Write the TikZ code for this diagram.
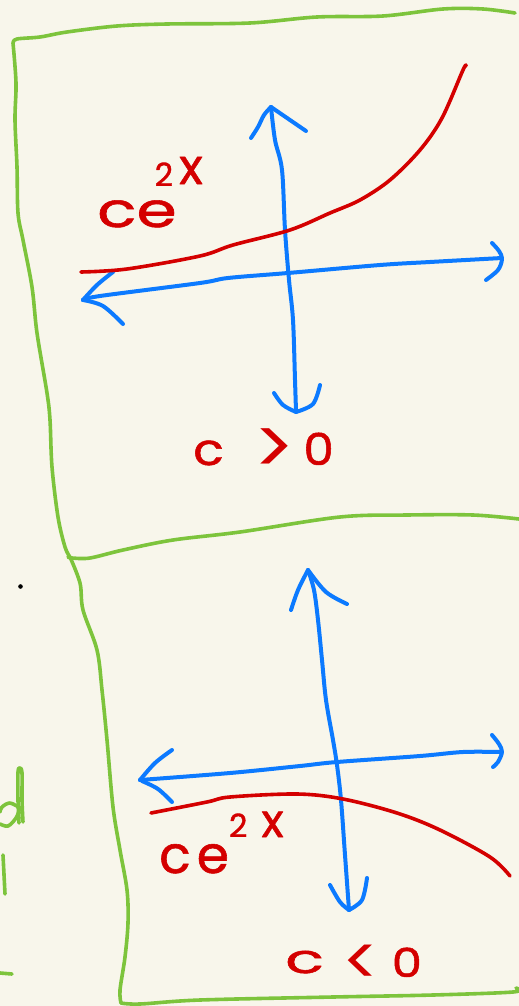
\documentclass[tikz,border=0pt]{standalone}
\usepackage{fontspec}
\newfontfamily\hand[FakeBold=1.1]{Poppins}
\newfontfamily\handsym{Poppins}
\definecolor{paper}{RGB}{248,246,235}
\definecolor{inkgreen}{RGB}{125,196,60}
\definecolor{inkblue}{RGB}{12,122,255}
\definecolor{inkred}{RGB}{212,0,0}
\begin{document}
\begin{tikzpicture}[x=1pt,y=-1pt,line cap=round,line join=round,
  frame/.style={draw=inkgreen,line width=3.6pt},
  axis/.style={draw=inkblue,line width=4pt},
  graph/.style={draw=inkred,line width=3.6pt},
  handtext/.style={text=inkred,inner sep=0pt,anchor=base west},
  sm/.style={smooth,tension=0.55}]
\fill[paper] (0,0) rectangle (519,1006);
\useasboundingbox (0,0) rectangle (519,1006);

% upper panel frame
\draw[frame] plot[sm] coordinates {(515,13) (483,9) (443,9) (383,16) (317,17) (250,23) (167,24) (117,26) (67,32) (40,37) (17,39) (13,43)};
\draw[frame] plot[sm] coordinates {(13,43) (16,83) (15,120) (17,167) (18,213) (23,240) (32,287) (37,333) (47,393) (50,420) (52,467) (58,517) (65,547) (70,557)};
\draw[frame] plot[sm] coordinates {(68,557) (72,558) (90,558) (123,550) (173,540) (240,532) (340,517) (407,515) (473,515) (519,519)};
% lower panel frame
\draw[frame] plot[sm] coordinates {(70,557) (80,583) (83,610) (97,650) (102,690) (107,740) (113,807) (120,850) (127,890) (128,923) (125,957) (120,990) (121,1003)};
\draw[frame] plot[sm] coordinates {(121,1003) (140,1004) (200,1000) (333,997) (433,995) (513,992) (516,988)};

% marks at the left edge
\draw[frame] plot[sm] coordinates {(20,808) (10,803) (2,807) (0,812)};
\draw[frame] plot[sm] coordinates {(0,824) (8,826) (16,818) (20,808)};
\draw[frame] plot[sm] coordinates {(19,823) (18,800) (18,772) (20,768) (22,773) (22,800) (23,822)};
\draw[frame] (3,855) -- (5,894);
\draw[frame] (0,973) -- (12,974);
\fill[black] (20.5,586.5) circle (2.3pt);

% upper axes
\draw[axis] plot[sm] coordinates {(271,107) (275,140) (282,170) (285,230) (289,280) (293,320) (295,380) (296,411)};
\draw[axis] plot[sm] coordinates {(251,138) (258,127) (264,115) (271,107)};
\draw[axis] (271,107) -- (306,131);
\draw[axis] plot[sm] coordinates {(274,393) (283,405) (296,412)};
\draw[axis] plot[sm] coordinates {(296,412) (313,404) (320,385)};
\draw[axis] plot[sm] coordinates {(83,300) (100,296) (200,283) (228,278) (288,273) (380,265) (430,262) (502,258)};
\draw[axis] plot[sm] coordinates {(113,272) (97,285) (83,300)};
\draw[axis] plot[sm] coordinates {(83,300) (103,306) (123,324)};
\draw[axis] plot[sm] coordinates {(492,243) (499,251) (502,259) (498,270) (486,280)};

% upper graph
\draw[graph] plot[sm] coordinates {(81,272) (127,269) (200,256) (233,245) (290,230) (330,213) (360,200) (390,180) (420,150) (442,118) (463,70) (466,66)};

% lower axes
\draw[axis] plot[sm] coordinates {(308,570) (314,590) (318,620) (322,660) (326,700) (333,740) (337,765) (341,800) (345,855) (349,910)};
\draw[axis] plot[sm] coordinates {(291,610) (298,590) (308,570)};
\draw[axis] plot[sm] coordinates {(308,570) (326,592) (347,604)};
\draw[axis] plot[sm] coordinates {(330,885) (340,902) (349,910)};
\draw[axis] plot[sm] coordinates {(349,910) (362,900) (367,878)};
\draw[axis] plot[sm] coordinates {(140,780) (230,773) (300,766) (337,762) (420,756) (463,752) (500,752)};
\draw[axis] plot[sm] coordinates {(172,750) (155,763) (140,780)};
\draw[axis] plot[sm] coordinates {(142,781) (158,789) (172,802)};
\draw[axis] plot[sm] coordinates {(492,735) (499,744) (502,752) (498,762) (493,767)};

% lower graph
\draw[graph] plot[sm] coordinates {(151,813) (207,802) (230,797) (297,794) (343,799) (397,813) (440,830) (490,857) (510,876)};

% labels
\node[handtext,font=\hand\fontsize{48}{48}\selectfont] (fup) at (97,227)
  {\scalebox{1.35}[1]{ce}\hspace{-22pt}\raisebox{41pt}{\fontsize{32}{32}\selectfont 2\hspace{6pt}\raisebox{2pt}{\scalebox{1.55}{x}}}};
\node[handtext,font=\hand\fontsize{44}{44}\selectfont] (cpos) at (193,465)
  {\scalebox{1.15}[1]{c}\hspace{30pt}\raisebox{-9pt}{\scalebox{1.75}{\handsym >}}\hspace{8pt}\scalebox{1.1}[1]{0}};
\node[handtext,font=\hand\fontsize{52}{52}\selectfont] (flow) at (159,873)
  {c\hspace{6pt}e\hspace{0pt}\raisebox{36pt}{\fontsize{32}{32}\selectfont 2\hspace{14pt}\scalebox{1.45}{x}}};
\node[handtext,font=\hand\fontsize{40}{40}\selectfont] (cneg) at (285,977)
  {\raisebox{4pt}{\scalebox{1.6}[1]{c}}\hspace{18pt}\raisebox{-8pt}{\scalebox{1.7}{\handsym <}}\hspace{12pt}\scalebox{1.2}[1]{0}};
\end{tikzpicture}
\end{document}
